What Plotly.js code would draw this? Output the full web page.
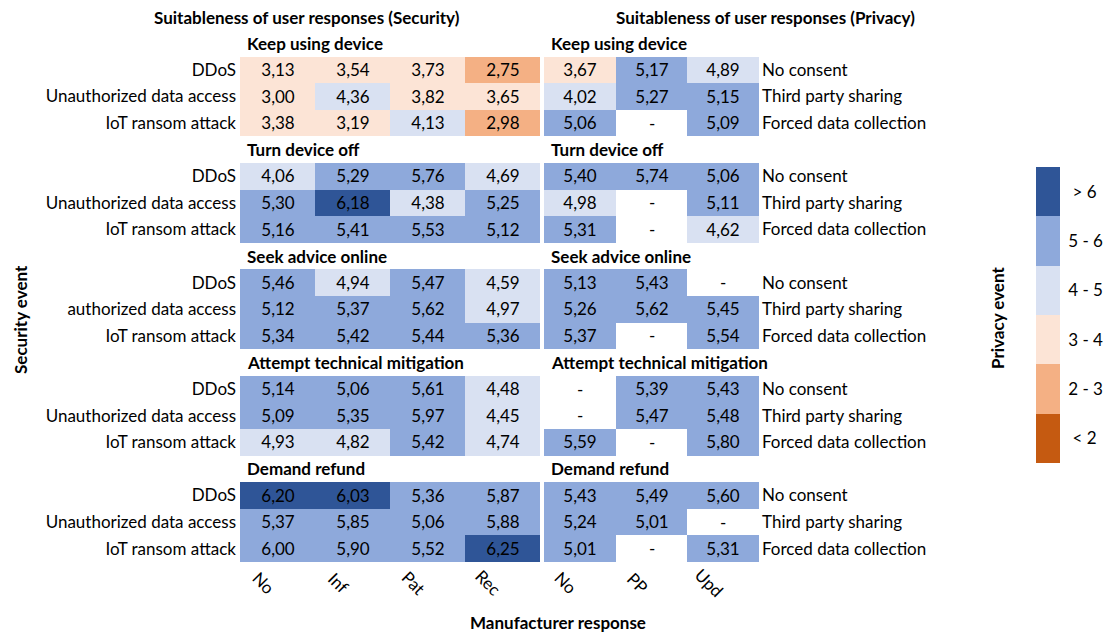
<!DOCTYPE html>
<html>
<head>
<meta charset="utf-8">
<script src="https://cdn.plot.ly/plotly-3.0.1.min.js"></script>
<style>html,body{margin:0;padding:0;background:#fff;}#chart{width:1107px;height:634px;}</style>
</head>
<body>
<div id="chart"></div>
<script>
// ---------- data ----------
const userResponses = ['Keep using device', 'Turn device off', 'Seek advice online', 'Attempt technical mitigation', 'Demand refund'];
const securityEventLabels = [
  'DDoS', 'Unauthorized data access', 'IoT ransom attack',
  'DDoS', 'Unauthorized data access', 'IoT ransom attack',
  'DDoS', 'authorized data access', 'IoT ransom attack',
  'DDoS', 'Unauthorized data access', 'IoT ransom attack',
  'DDoS', 'Unauthorized data access', 'IoT ransom attack'
];
const privacyEventLabels = ['No consent', 'Third party sharing', 'Forced data collection'];
const securityResponses = ['No', 'Inf', 'Pat', 'Rec'];
const privacyResponses = ['No', 'PP', 'Upd'];

const securityValues = [
  [3.13, 3.54, 3.73, 2.75], [3.00, 4.36, 3.82, 3.65], [3.38, 3.19, 4.13, 2.98],
  [4.06, 5.29, 5.76, 4.69], [5.30, 6.18, 4.38, 5.25], [5.16, 5.41, 5.53, 5.12],
  [5.46, 4.94, 5.47, 4.59], [5.12, 5.37, 5.62, 4.97], [5.34, 5.42, 5.44, 5.36],
  [5.14, 5.06, 5.61, 4.48], [5.09, 5.35, 5.97, 4.45], [4.93, 4.82, 5.42, 4.74],
  [6.20, 6.03, 5.36, 5.87], [5.37, 5.85, 5.06, 5.88], [6.00, 5.90, 5.52, 6.25]
];
const privacyValues = [
  [3.67, 5.17, 4.89], [4.02, 5.27, 5.15], [5.06, null, 5.09],
  [5.40, 5.74, 5.06], [4.98, null, 5.11], [5.31, null, 4.62],
  [5.13, 5.43, null], [5.26, 5.62, 5.45], [5.37, null, 5.54],
  [null, 5.39, 5.43], [null, 5.47, 5.48], [5.59, null, 5.80],
  [5.43, 5.49, 5.60], [5.24, 5.01, null], [5.01, null, 5.31]
];
const binLabels = ['< 2', '2 - 3', '3 - 4', '4 - 5', '5 - 6', '> 6'];
const binColors = ['#C55A11', '#F4B084', '#FCE4D6', '#D9E1F2', '#8EA9DB', '#2F5597'];

// ---------- helpers ----------
function binOf(v) {
  if (v === null) return null;
  if (v > 6) return 5;
  if (v >= 5) return 4;
  if (v >= 4) return 3;
  if (v >= 3) return 2;
  if (v >= 2) return 1;
  return 0;
}
function fmt(v) { return v === null ? '' : v.toFixed(2).replace('.', ','); }

function build(values, nCols) {
  const z = [], text = [], headerRows = [], missing = [];
  values.forEach((row, i) => {
    if (i % 3 === 0) {
      headerRows.push(z.length);
      z.push(new Array(nCols).fill(null));
      text.push(new Array(nCols).fill(''));
    }
    const r = z.length;
    row.forEach((v, j) => { if (v === null) missing.push([j, r]); });
    z.push(row.map(binOf));
    text.push(row.map(fmt));
  });
  return {z, text, headerRows, missing};
}
const sec = build(securityValues, securityResponses.length);
const priv = build(privacyValues, privacyResponses.length);
const nRows = sec.z.length;

function rowLabels(labelsFor) {
  const out = [];
  let k = 0;
  for (let r = 0; r < nRows; r++) {
    if (sec.headerRows.includes(r)) out.push('');
    else { out.push(labelsFor(k)); k++; }
  }
  return out;
}
const leftTicks = rowLabels(k => securityEventLabels[k]);
const rightTicks = rowLabels(k => privacyEventLabels[k % 3]);

const cs = [];
binColors.forEach((c, i) => { cs.push([i / 6, c]); cs.push([(i + 1) / 6, c]); });

const FONT = 'Lato, "Open Sans", sans-serif';
const FS = 17;
const W = 1107, H = 634;
const px = x => x / W, py = y => 1 - y / H;
const tfont = {family: FONT, size: FS, color: '#000'};

const common = {
  type: 'heatmap', colorscale: cs, zmin: -0.5, zmax: 5.5,
  texttemplate: '%{text}', textfont: tfont,
  hoverinfo: 'skip', xgap: 0, ygap: 0
};

const traces = [
  Object.assign({}, common, {
    z: sec.z, text: sec.text, x: securityResponses.map((_, i) => i), y: leftTicks.map((_, i) => i),
    xaxis: 'x', yaxis: 'y', showscale: true,
    colorbar: {
      x: px(1036), xanchor: 'left', xpad: 0, ypad: 0,
      y: py(315), yanchor: 'middle', len: 296, lenmode: 'pixels',
      thickness: 24, thicknessmode: 'pixels', outlinewidth: 0,
      tickvals: [0, 1, 2, 3, 4, 5], ticktext: binLabels.map(s => (s.length < 4 ? '\u00a0\u00a0' : '\u00a0') + s),
      ticks: '', tickfont: tfont
    }
  }),
  Object.assign({}, common, {
    z: priv.z, text: priv.text, x: privacyResponses.map((_, i) => i), y: rightTicks.map((_, i) => i),
    xaxis: 'x2', yaxis: 'y2', showscale: false
  })
];

const annotations = [];
function headerAnn(xref, yref, r, t) {
  annotations.push({xref, yref, x: -0.5, y: r, text: '<b>' + t + '</b>', showarrow: false,
    xanchor: 'left', yanchor: 'middle', xshift: 5, font: tfont});
}
sec.headerRows.forEach((r, g) => headerAnn('x', 'y', r, userResponses[g]));
priv.headerRows.forEach((r, g) => headerAnn('x2', 'y2', r, userResponses[g]));
priv.missing.forEach(([j, r]) => annotations.push({xref: 'x2', yref: 'y2', x: j, y: r, text: '-',
  xanchor: 'center', yanchor: 'middle', showarrow: false, font: tfont}));
securityResponses.forEach((t, i) => annotations.push({xref: 'x', yref: 'paper', x: i, y: py(582), text: t,
  textangle: 45, showarrow: false, xanchor: 'center', yanchor: 'middle', xshift: -14, font: tfont}));
privacyResponses.forEach((t, i) => annotations.push({xref: 'x2', yref: 'paper', x: i, y: py(582), text: t,
  textangle: 45, showarrow: false, xanchor: 'center', yanchor: 'middle', xshift: -14, font: tfont}));
// titles
function paperAnn(x, y, t, angle) {
  annotations.push({xref: 'paper', yref: 'paper', x: px(x), y: py(y), text: '<b>' + t + '</b>',
    textangle: angle || 0, xanchor: 'center', yanchor: 'middle', showarrow: false, font: tfont});
}
paperAnn(307, 17, 'Suitableness of user responses (Security)');
paperAnn(765, 17, 'Suitableness of user responses (Privacy)');
paperAnn(20, 320, 'Security event', -90);
paperAnn(997, 318, 'Privacy event', -90);
paperAnn(558, 622, 'Manufacturer response');

const yDom = [py(562), py(30)];
const axBase = {showgrid: false, zeroline: false, showline: false, ticks: '', fixedrange: true};
const layout = {
  width: W, height: H, margin: {l: 0, r: 0, t: 0, b: 0},
  paper_bgcolor: '#fff', plot_bgcolor: 'rgba(0,0,0,0)',
  font: tfont,
  showlegend: false,
  xaxis: Object.assign({}, axBase, {domain: [px(240), px(540)], range: [-0.5, 3.5], showticklabels: false, anchor: 'y'}),
  yaxis: Object.assign({}, axBase, {domain: yDom, range: [nRows - 0.5, -0.5], anchor: 'x',
    tickvals: leftTicks.map((_, i) => i), ticktext: leftTicks, ticklabelstandoff: 3, tickfont: tfont}),
  xaxis2: Object.assign({}, axBase, {domain: [px(544), px(759)], range: [-0.5, 2.5], showticklabels: false, anchor: 'y2'}),
  yaxis2: Object.assign({}, axBase, {domain: yDom, range: [nRows - 0.5, -0.5], anchor: 'x2', side: 'right',
    tickvals: rightTicks.map((_, i) => i), ticktext: rightTicks, ticklabelstandoff: 2, tickfont: tfont}),
  annotations
};
Plotly.newPlot('chart', traces, layout, {staticPlot: true, displayModeBar: false});
</script>
</body>
</html>
